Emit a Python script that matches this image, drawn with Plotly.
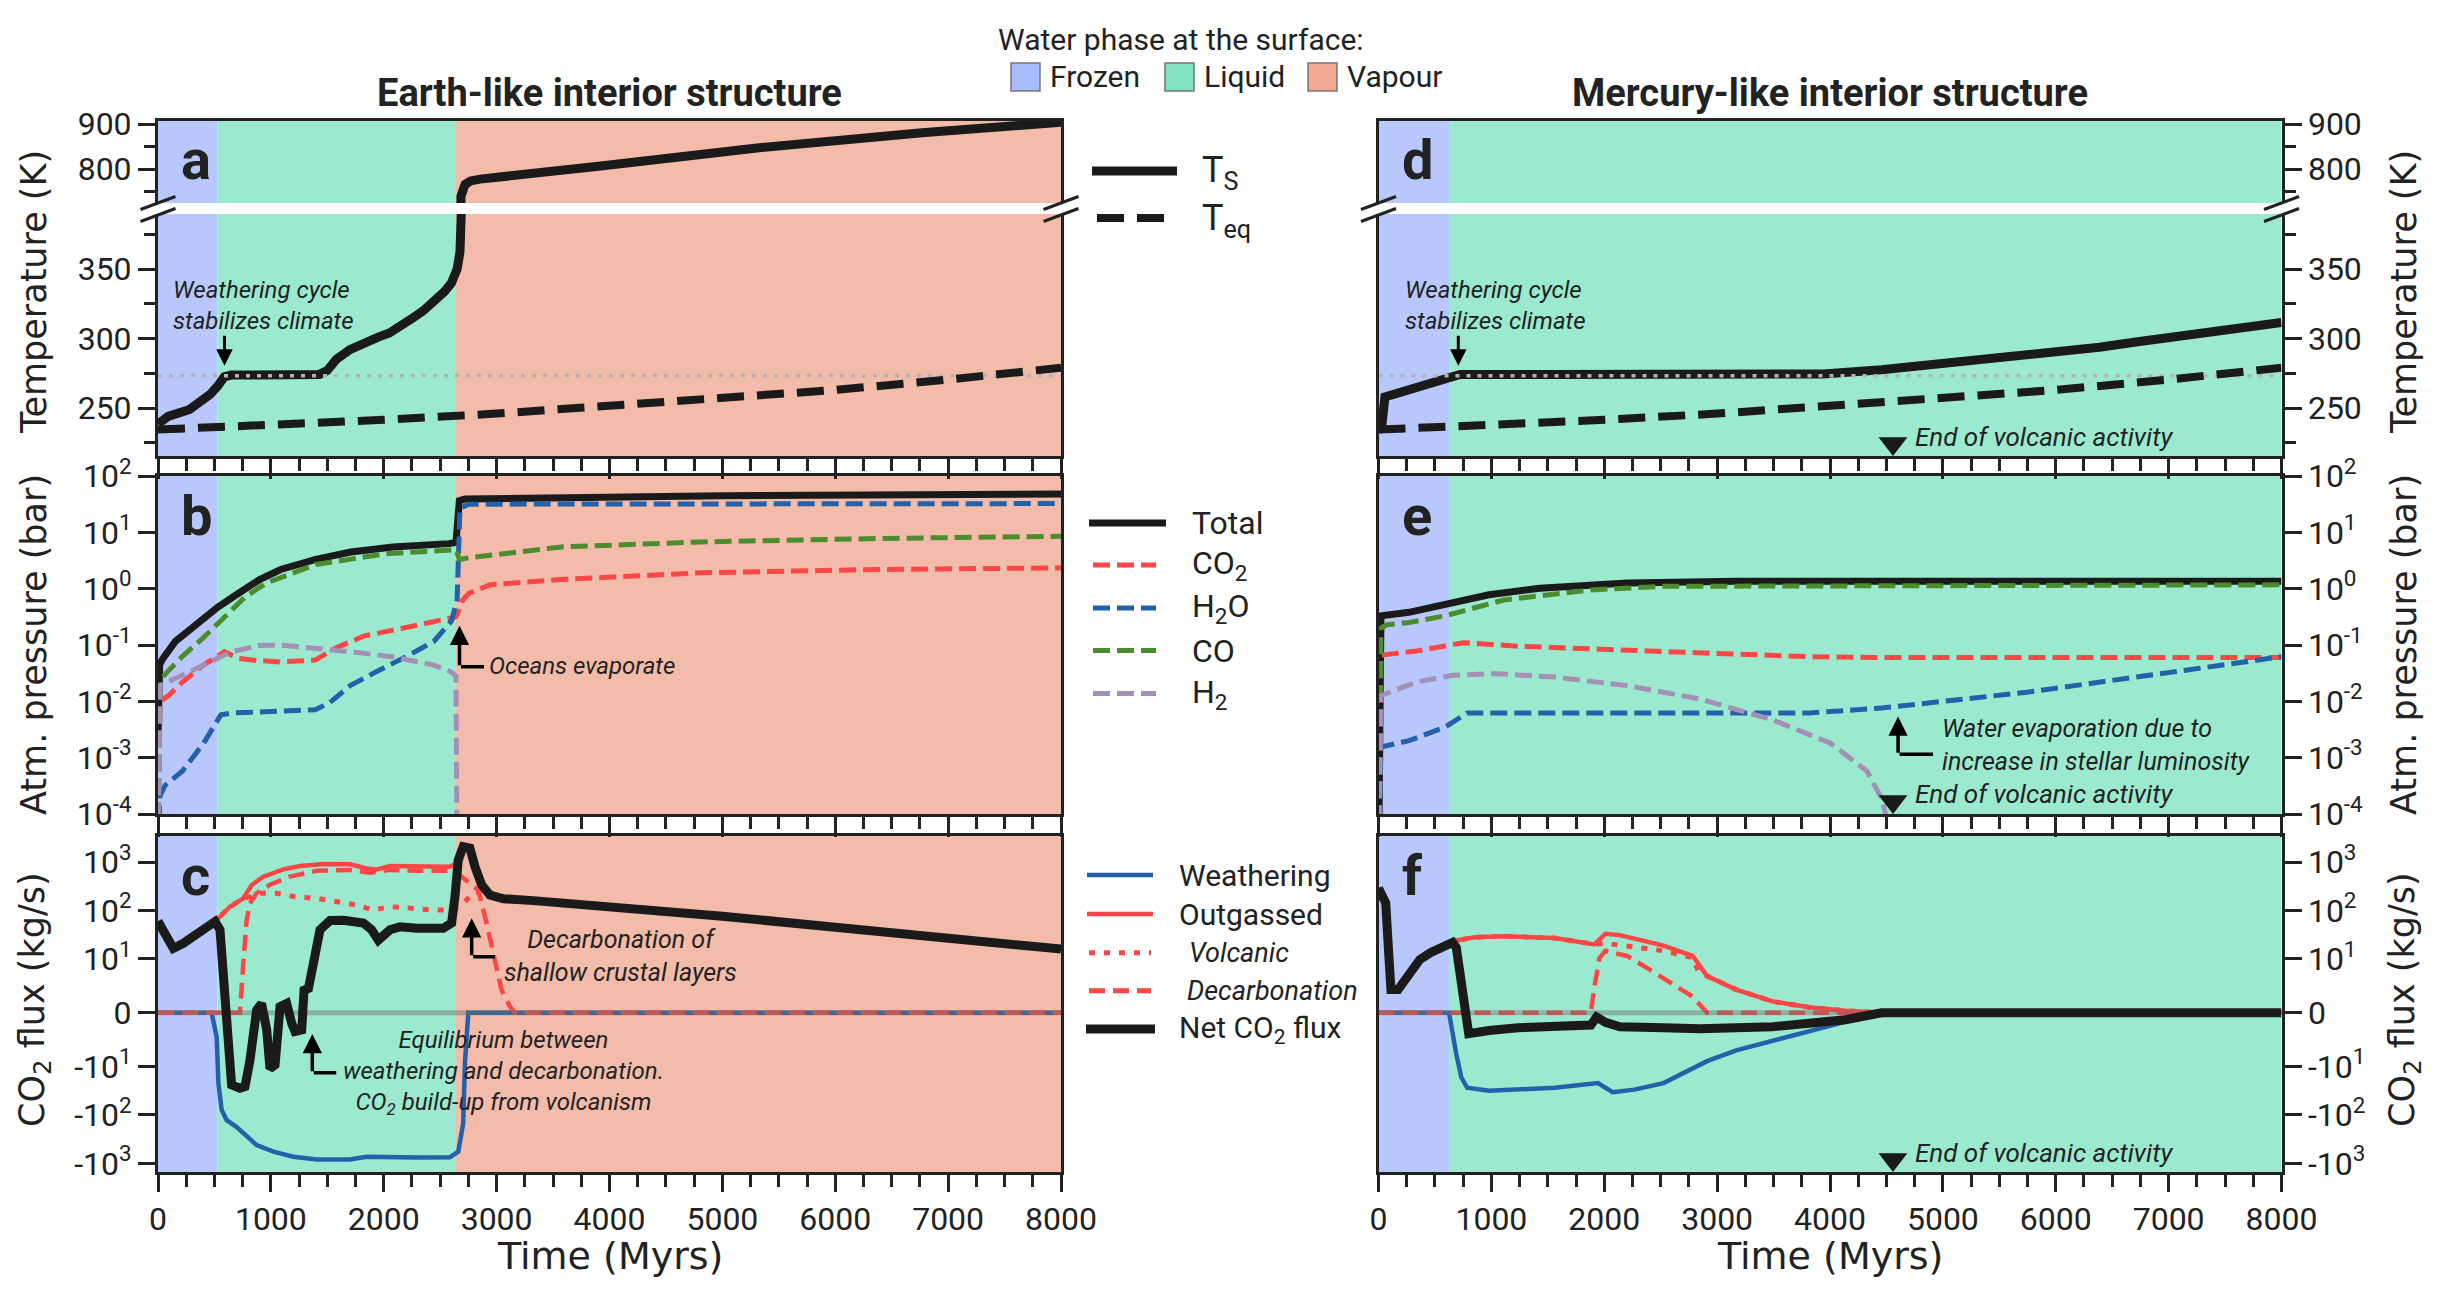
import math
import plotly.graph_objects as go

W, H = 2440, 1293

# ======================= DATA =======================
T_MAX = 8000
T_FREEZE = 273.15          # K, freezing point line
T_END_VOLC = 4558          # Myr, end of volcanic activity (Mercury-like)

earth_phase_names = ["Frozen", "Liquid", "Vapour"]
earth_phase_edges = [0, 528, 2640, 8000]
merc_phase_names = ["Frozen", "Liquid"]
merc_phase_edges = [0, 625, 8000]

# ---- panel a / d : temperatures (K)
ts_earth_t = [0, 90, 280, 400, 464, 530, 588, 650, 800, 960, 1100, 1300, 1430, 1500, 1580, 1700,
              1830, 1950, 2050, 2160, 2260, 2350, 2450, 2540, 2600, 2650, 2675, 2680, 2684, 2695,
              2720, 2770, 2853, 3922, 5345, 6769, 8000]
ts_earth = [238.5, 244, 249, 255, 260, 266, 272.5, 273.7, 273.7, 272.6, 273.3, 273.7, 274.2, 277,
            285, 292, 297.5, 301, 304, 309, 315, 320, 327, 334, 340, 350, 362, 390, 740, 757,
            766, 774, 778, 807, 848, 881, 904]

ts_merc_t = [0, 28, 57, 220, 456, 634, 722, 1500, 3000, 3940, 4456, 4778, 5422, 5743, 6387, 6710,
             7354, 8000]
ts_merc = [234, 236, 258, 261.7, 267.7, 272.5, 274.2, 274.2, 274.3, 274.5, 277.5, 280, 285, 287.5,
           293.8, 297.5, 303.8, 311.5]

teq_t = [0, 1000, 2000, 3000, 4000, 5000, 6000, 7000, 8000]
teq = [234.5, 237.5, 241.5, 246, 251.5, 256.5, 263, 270.5, 279]

# ---- panel b : Earth-like atmospheric partial pressures (bar)
p_tot_e_t = [0, 8, 15, 40, 155, 342, 528, 714, 900, 1087, 1398, 1708, 2081, 2578, 2640, 2655, 2670,
             2720, 3500, 5000, 8000]
p_tot_e = [0.0025, 0.0126, 0.045, 0.056, 0.117, 0.234, 0.468, 0.83, 1.45, 2.19, 3.31, 4.47, 5.5,
           6.3, 6.6, 15.8, 36.3, 38.9, 41.7, 44.7, 47.9]

p_co2_e_t = [0, 10, 19, 93, 217, 402, 588, 712, 836, 1084, 1393, 1579, 1827, 2198, 2570, 2640, 2663,
             2700, 2756, 2942, 3561, 4800, 6350, 8000]
p_co2_e = [3e-5, 0.005, 0.01, 0.0126, 0.022, 0.044, 0.076, 0.058, 0.054, 0.050, 0.054, 0.089, 0.145,
           0.204, 0.288, 0.316, 0.407, 0.63, 0.83, 1.17, 1.45, 1.91, 2.19, 2.34]

p_h2o_e_t = [0, 15, 62, 217, 402, 557, 650, 1393, 1517, 1703, 1951, 2198, 2446, 2601, 2650, 2663,
             2675, 2756, 8000]
p_h2o_e = [1e-5, 2e-4, 3.2e-4, 5.8e-4, 0.00178, 0.00575, 0.0062, 0.0071, 0.0093, 0.019, 0.035, 0.062,
           0.117, 0.27, 0.63, 10.0, 26.9, 31.6, 32.4]

p_co_e_t = [0, 8, 19, 93, 217, 402, 588, 774, 960, 1398, 2019, 2609, 2640, 2670, 2760, 3571, 4814,
            6362, 8000]
p_co_e = [3e-5, 0.01, 0.024, 0.035, 0.063, 0.135, 0.31, 0.72, 1.26, 2.69, 4.17, 5.01, 4.9, 3.31, 3.55,
          5.5, 6.76, 7.76, 8.51]

p_h2_e_t = [0, 10, 19, 62, 217, 464, 650, 898, 1084, 1393, 1703, 2074, 2446, 2601, 2640, 2650]
p_h2_e = [3e-5, 0.0126, 0.019, 0.021, 0.029, 0.050, 0.076, 0.098, 0.100, 0.089, 0.076, 0.062, 0.044,
          0.033, 0.028, 1e-5]

# ---- panel e : Mercury-like atmospheric partial pressures (bar)
p_tot_m_t = [0, 22, 270, 592, 979, 1430, 2202, 3168, 8000]
p_tot_m = [1e-5, 0.33, 0.38, 0.54, 0.78, 1.02, 1.26, 1.35, 1.35]

p_co2_m_t = [0, 22, 335, 753, 1237, 2524, 3812, 4456, 8000]
p_co2_m = [1e-5, 0.066, 0.078, 0.11, 0.095, 0.078, 0.062, 0.060, 0.060]

p_h2o_m_t = [0, 22, 270, 592, 785, 3812, 4456, 5743, 7031, 8000]
p_h2o_m = [1e-5, 0.00155, 0.0020, 0.0035, 0.0062, 0.0062, 0.0076, 0.0145, 0.033, 0.062]

p_co_m_t = [0, 22, 77, 270, 592, 1108, 1881, 2524, 8000]
p_co_m = [1e-5, 0.2, 0.23, 0.25, 0.33, 0.63, 0.95, 1.10, 1.17]

p_h2_m_t = [0, 22, 335, 657, 1043, 1558, 2202, 2846, 3490, 4005, 4327, 4456, 4489, 4530]
p_h2_m = [1e-5, 0.0126, 0.022, 0.029, 0.031, 0.027, 0.019, 0.011, 0.0047, 0.0018, 0.00058, 0.00019,
          0.000107, 0.00002]

# ---- panel c : Earth-like CO2 fluxes (kg/s)
f_weath_e_t = [0, 475, 520, 535, 564, 608, 697, 785, 874, 1022, 1199, 1406, 1701, 1849, 1996, 2291,
               2586, 2660, 2704, 2719, 2749, 8000]
f_weath_e = [0, 0, -4.5, -22, -79, -128, -178, -282, -420, -575, -730, -830, -830, -730, -750, -760,
             -750, -575, -150, -9.4, 0, 0]

f_outg_e_t = [0, 62, 136, 224, 372, 505, 638, 756, 830, 933, 1110, 1258, 1465, 1701, 1849, 1937, 2055,
              2291, 2586, 2631, 2660, 2704, 2763, 2808, 2867, 2941, 3060, 3326, 3650, 4000, 5000,
              6000, 7000, 8000]
f_outg_e = [60, 34, 16.5, 21, 36, 59, 120, 178, 337, 500, 706, 830, 910, 900, 740, 706, 830, 800, 800,
            900, 1300, 2080, 1940, 810, 340, 209, 175, 160, 140, 125, 76, 45, 27, 16]

f_volc_e_t = [0, 62, 136, 224, 372, 505, 638, 756, 830, 904, 1051, 1199, 1406, 1583, 1760, 1908, 2055,
              2232, 2439, 2586, 2675, 2763, 2808, 2867, 2941, 3060, 3326, 3650, 4000, 5000, 6000,
              7000, 8000]
f_volc_e = [60, 34, 16.5, 21, 36, 59, 120, 178, 194, 228, 228, 194, 178, 152, 130, 102, 120, 112, 102,
            102, 120, 194, 245, 240, 195, 170, 160, 140, 125, 76, 45, 27, 16]

f_decarb_e_t = [0, 726, 756, 785, 815, 874, 992, 1170, 1406, 1701, 1878, 2055, 2291, 2586, 2690, 2837,
                2911, 2985, 3044, 3119, 3163, 8000]
f_decarb_e = [0, 0, 9.2, 63, 141, 228, 340, 500, 660, 690, 600, 690, 660, 660, 500, 265, 55, 9.2, 4.2,
              1.1, 0, 0]

f_net_e_t = [0, 62, 136, 224, 372, 505, 549, 579, 623, 652, 726, 771, 815, 874, 918, 963, 992, 1037,
             1081, 1140, 1185, 1214, 1273, 1294, 1333, 1362, 1391, 1435, 1524, 1642, 1819, 1893, 1952,
             1996, 2055, 2144, 2291, 2527, 2601, 2631, 2660, 2704, 2763, 2808, 2867, 2941, 3060,
             3326, 3650, 4000, 5000, 6000, 7000, 8000]
f_net_e = [60, 34, 16.5, 21, 36, 59, 40, 7.9, -4.5, -24, -28, -26, -8.8, 0.5, 1.7, -3.2, -11, -9.7,
           1.1, 1.7, -2.0, -3.5, -3.2, 4.2, 4.5, 7.3, 13.1, 40, 62, 63, 55, 40, 24.5, 31, 40, 46, 43,
           43, 55, 194, 1100, 2080, 1940, 810, 340, 209, 175, 160, 140, 125, 76, 45, 27, 16]

# ---- panel f : Mercury-like CO2 fluxes (kg/s)
f_weath_m_t = [0, 625, 689, 734, 786, 979, 1559, 1881, 1945, 2074, 2267, 2525, 2911, 3169, 3491, 3813,
               4135, 4393, 4457, 8000]
f_weath_m = [0, 0, -7.7, -16.9, -27.5, -31.7, -27.5, -23.5, -22, -34, -30, -22, -9, -7.0, -5.2, -3.3,
             -1.7, -0.4, 0, 0]

f_outg_m_t = [0, 64, 90, 110, 174, 270, 367, 464, 657, 689, 850, 1108, 1559, 1881, 1913, 2010, 2138,
              2525, 2783, 2911, 3169, 3491, 3813, 4135, 4457, 8000]
f_outg_m = [290, 143, 13.5, 4.3, 4.3, 6.8, 9.9, 13.6, 22, 24, 28, 29.5, 27, 21, 20, 33, 31, 18.8, 11.6,
            6.8, 4.3, 2.1, 1.0, 0.38, 0, 0]

f_volc_m_t = [0, 64, 90, 110, 174, 270, 367, 464, 657, 689, 850, 1108, 1559, 1881, 1913, 2010, 2267,
              2525, 2783, 2834, 2911, 3169, 3491, 3813, 4135, 4457, 8000]
f_volc_m = [290, 143, 13.5, 4.3, 4.3, 6.8, 9.9, 13.6, 22, 24, 28, 29.5, 27, 21, 20, 21, 17.3, 14.7,
            10.6, 7.7, 6.8, 4.3, 2.1, 1.0, 0.38, 0, 0]

f_decarb_m_t = [0, 1881, 1913, 1958, 2010, 2203, 2396, 2589, 2783, 2911, 8000]
f_decarb_m = [0, 0, 4.9, 10.5, 14.7, 11.5, 8.1, 5.5, 3.0, 0, 0]

f_net_m_t = [0, 64, 90, 110, 174, 270, 367, 464, 657, 689, 754, 799, 979, 1237, 1881, 1932, 2010, 2138,
             2525, 2847, 3491, 3813, 4135, 4457, 8000]
f_net_m = [290, 143, 13.5, 4.3, 4.3, 6.8, 9.9, 13.6, 22, 17.3, 1.1, -3.9, -3.3, -2.8, -2.3, -0.8, -1.8,
           -2.6, -2.8, -3.0, -2.6, -2.1, -1.3, 0, 0]

# tick values
time_ticks = [0, 1000, 2000, 3000, 4000, 5000, 6000, 7000, 8000]
p_ticks = [1e-4, 1e-3, 1e-2, 1e-1, 1e0, 1e1, 1e2]
p_ticktext = ["10<sup>-4</sup>", "10<sup>-3</sup>", "10<sup>-2</sup>", "10<sup>-1</sup>",
              "10<sup>0</sup>", "10<sup>1</sup>", "10<sup>2</sup>"]
flux_ticks = [-1000, -100, -10, 0, 10, 100, 1000]
flux_ticktext = ["-10<sup>3</sup>", "-10<sup>2</sup>", "-10<sup>1</sup>", "0",
                 "10<sup>1</sup>", "10<sup>2</sup>", "10<sup>3</sup>"]

# ======================= STYLE =======================
INK = "#222222"
BLACK = "#1a1a1a"
RED = "#fd4646"
BLUE = "#2361aa"
GREEN = "#4b8c2e"
PURPLE = "#a590b5"
FONT = "Roboto"
AXFONT = "DejaVu Sans"
PHASE_BG = {"Frozen": "#b9c8fc", "Liquid": "#9beacf", "Vapour": "#f3bba9"}
PHASE_PATCH = {"Frozen": "#a9bcfb", "Liquid": "#80e2bf", "Vapour": "#f0a890"}
TICKFONT = dict(family=FONT, size=32, color=INK)

LINTHRESH = 10.0
LINSCALE_ADJ = 1.0 / (1.0 - 1.0 / 10.0)


def symlog(v):
    a = abs(v)
    if a <= LINTHRESH:
        return v * LINSCALE_ADJ / LINTHRESH
    return math.copysign(LINSCALE_ADJ + math.log10(a / LINTHRESH), v)


def PX(px):
    return px / W


def PY(py):
    return 1 - py / H


XL = [PX(158), PX(1061)]
XR = [PX(1378.5), PX(2281.5)]


def ydom(top, bot):
    return [PY(bot), PY(top)]


A_UP, A_LO, B_DOM, C_DOM = ydom(121, 203), ydom(214, 456), ydom(476, 814), ydom(836, 1172)

layout = dict(width=W, height=H, autosize=False, margin=dict(l=0, r=0, t=0, b=0, pad=0),
              paper_bgcolor="white", plot_bgcolor="white", showlegend=False,
              font=dict(family=FONT, color=INK))


def ax_name(i, k):
    return k if i == 1 else f"{k}{i}"


def lay_name(i, k):
    return f"{k}axis" if i == 1 else f"{k}axis{i}"


def make_x(i, dom, kind, mirror):
    d = dict(domain=dom, anchor=ax_name(i, "y"), range=[0, T_MAX], showgrid=False, zeroline=False,
             automargin=False, showline=True, linecolor=INK, linewidth=3, tickfont=TICKFONT,
             mirror=mirror)
    if kind == "top":
        d.update(side="top", ticks="", showticklabels=False)
    else:
        d.update(ticks="outside", tickvals=time_ticks, tickcolor=INK, tickwidth=3,
                 ticklen=20 if kind == "strip" else 17,
                 showticklabels=(kind == "labels"),
                 minor=dict(dtick=250, tick0=0, ticks="outside", ticklen=12, tickwidth=2.5,
                            tickcolor=INK))
    layout[lay_name(i, "x")] = d


def make_y(i, dom, side, **kw):
    d = dict(domain=dom, anchor=ax_name(i, "x"), side=side, showgrid=False, zeroline=False,
             automargin=False, showline=True, linecolor=INK, linewidth=3, mirror=True,
             ticks="outside", ticklen=17, tickwidth=3, tickcolor=INK, tickfont=TICKFONT)
    d.update(kw)
    layout[lay_name(i, "y")] = d


minor_up = dict(tickvals=[750, 850], ticks="outside", ticklen=11, tickwidth=2.5, tickcolor=INK)
minor_lo = dict(tickvals=[225, 275, 325, 375], ticks="outside", ticklen=11, tickwidth=2.5,
                tickcolor=INK)
flux_range = [-3.29, 3.65]

for base, xd, side in ((0, XL, "left"), (4, XR, "right")):
    make_x(base + 1, xd, "top", False)
    make_x(base + 2, xd, "strip", False)
    make_x(base + 3, xd, "strip", True)
    make_x(base + 4, xd, "labels", True)
    make_y(base + 1, A_UP, side, range=[725, 907], tickvals=[800, 900], minor=minor_up)
    make_y(base + 2, A_LO, side, range=[215.5, 389.6], tickvals=[250, 300, 350], minor=minor_lo)
    make_y(base + 3, B_DOM, side, type="log", range=[-4, 2], tickvals=p_ticks, ticktext=p_ticktext)
    make_y(base + 4, C_DOM, side, range=flux_range, tickvals=[symlog(v) for v in flux_ticks],
           ticktext=flux_ticktext)

fig = go.Figure()


def line(i, x, y, color, width, dash="solid"):
    fig.add_trace(go.Scatter(x=x, y=y, mode="lines", xaxis=ax_name(i, "x"), yaxis=ax_name(i, "y"),
                             line=dict(color=color, width=width, dash=dash), hoverinfo="skip"))


TEQ_DASH = "27px,13px"
GAS_DASH = "17px,7px"
DOT_GRAY = "4px,7px"
VOLC_DOT = "6px,9px"
DEC_DASH = "16px,8px"

# --- temperature panels (a: 1,2 ; d: 5,6)
for i in (1, 2):
    line(i, ts_earth_t, ts_earth, BLACK, 9)
    line(i, [0, T_MAX], [T_FREEZE, T_FREEZE], "#b3b3b3", 3.5, DOT_GRAY)
    line(i, teq_t, teq, BLACK, 8, TEQ_DASH)
for i in (5, 6):
    line(i, ts_merc_t, ts_merc, BLACK, 9)
    line(i, [0, T_MAX], [T_FREEZE, T_FREEZE], "#b3b3b3", 3.5, DOT_GRAY)
    line(i, teq_t, teq, BLACK, 8, TEQ_DASH)

# --- pressure panels (b: 3 ; e: 7)
for i, series in ((3, [(p_tot_e_t, p_tot_e), (p_co2_e_t, p_co2_e), (p_h2o_e_t, p_h2o_e),
                       (p_co_e_t, p_co_e), (p_h2_e_t, p_h2_e)]),
                  (7, [(p_tot_m_t, p_tot_m), (p_co2_m_t, p_co2_m), (p_h2o_m_t, p_h2o_m),
                       (p_co_m_t, p_co_m), (p_h2_m_t, p_h2_m)])):
    line(i, series[0][0], series[0][1], BLACK, 7)
    for (tx, py), col in zip(series[1:], (RED, BLUE, GREEN, PURPLE)):
        line(i, tx, py, col, 5, GAS_DASH)

# --- flux panels (c: 4 ; f: 8)
for i, (wt, wv, ot, ov, vt, vv, dt, dv, nt, nv) in (
        (4, (f_weath_e_t, f_weath_e, f_outg_e_t, f_outg_e, f_volc_e_t, f_volc_e, f_decarb_e_t,
             f_decarb_e, f_net_e_t, f_net_e)),
        (8, (f_weath_m_t, f_weath_m, f_outg_m_t, f_outg_m, f_volc_m_t, f_volc_m, f_decarb_m_t,
             f_decarb_m, f_net_m_t, f_net_m))):
    line(i, wt, [symlog(v) for v in wv], BLUE, 4.5)
    line(i, ot, [symlog(v) for v in ov], RED, 4.5)
    line(i, vt, [symlog(v) for v in vv], RED, 5, VOLC_DOT)
    line(i, dt, [symlog(v) for v in dv], RED, 4.5, DEC_DASH)
    line(i, [0, T_MAX], [symlog(0), symlog(0)], "rgba(110,110,110,0.45)", 5)
    line(i, nt, [symlog(v) for v in nv], BLACK, 9)

# --- end of volcanic activity markers
for i, yv in ((6, 224.5), (7, 10 ** -3.78), (8, -3.03)):
    fig.add_trace(go.Scatter(x=[T_END_VOLC], y=[yv], mode="markers", xaxis=ax_name(i, "x"),
                             yaxis=ax_name(i, "y"), hoverinfo="skip",
                             marker=dict(symbol="triangle-down", size=25, color=BLACK)))

# ======================= SHAPES =======================
shapes = []
for idxs, names, edges in (((1, 2, 3, 4), earth_phase_names, earth_phase_edges),
                           ((5, 6, 7, 8), merc_phase_names, merc_phase_edges)):
    for i in idxs:
        for k, nm in enumerate(names):
            shapes.append(dict(type="rect", xref=ax_name(i, "x"), yref=ax_name(i, "y") + " domain",
                               x0=edges[k], x1=edges[k + 1], y0=0, y1=1, fillcolor=PHASE_BG[nm],
                               line=dict(width=0), layer="below"))


def pseg(x0, y0, x1, y1, color, width, dash="solid"):
    shapes.append(dict(type="line", xref="paper", yref="paper", x0=PX(x0), y0=PY(y0), x1=PX(x1),
                       y1=PY(y1), line=dict(color=color, width=width, dash=dash)))


# axis break marks
for xa in (158, 1061, 1378.5, 2281.5):
    for yc in (203, 215):
        pseg(xa - 17.5, yc + 6.5, xa + 17.5, yc - 6.5, INK, 3)

# ======================= ANNOTATIONS =======================
ann = []


def text(x, y, s, size=24, xanchor="left", yanchor="middle", xref="paper", yref="paper",
         italic=False, family=FONT, angle=0):
    ann.append(dict(x=x, y=y, xref=xref, yref=yref, text=s, showarrow=False, xanchor=xanchor,
                    yanchor=yanchor, textangle=angle, align=xanchor,
                    font=dict(family=family, size=size, color=INK,
                              style="italic" if italic else "normal")))


def arrow(i, x, y, ax, ay, head=2, width=3):
    ann.append(dict(x=x, y=y, ax=ax, ay=ay, xref=ax_name(i, "x"), yref=ax_name(i, "y"),
                    axref=ax_name(i, "x"), ayref=ax_name(i, "y"), text="", showarrow=True,
                    arrowhead=head, arrowsize=1.1, arrowwidth=width, arrowcolor="black",
                    standoff=0, startstandoff=0))


# titles and top legend
text(PX(609.5), PY(93), "<b>Earth-like interior structure</b>", size=38, xanchor="center")
text(PX(1830), PY(93), "<b>Mercury-like interior structure</b>", size=38, xanchor="center")
text(PX(1181), PY(39), "Water phase at the surface:", size=30, xanchor="center")
for nm, bx in (("Frozen", 1011), ("Liquid", 1165), ("Vapour", 1308)):
    shapes.append(dict(type="rect", xref="paper", yref="paper", x0=PX(bx), x1=PX(bx + 29),
                       y0=PY(91), y1=PY(63), fillcolor=PHASE_PATCH[nm],
                       line=dict(color="#777777", width=1.5)))
    text(PX(bx + 37), PY(77), nm, size=30)

# panel letters
for s, x, y in (("a", 179, 160), ("b", 179, 516), ("c", 179, 876), ("d", 1399.5, 160),
                ("e", 1399.5, 516), ("f", 1399.5, 876)):
    text(PX(x), PY(y), f"<b>{s}</b>", size=56)

# axis titles
for xpos in (34, 2404):
    text(PX(xpos), PY(292), "Temperature (K)", size=35, xanchor="center", family=AXFONT, angle=-90)
    text(PX(xpos), PY(645), "Atm. pressure (bar)", size=35, xanchor="center", family=AXFONT,
         angle=-90)
    text(PX(xpos), PY(1000), "CO<sub>2</sub> flux (kg/s)", size=35, xanchor="center",
         family=AXFONT, angle=-90)
for xc in (609.5, 1830):
    text(PX(xc), PY(1256), "Time (Myrs)", size=38, xanchor="center", family=AXFONT)

# middle legends
pseg(1092, 171, 1177, 171, BLACK, 9)
pseg(1097, 218, 1165, 218, BLACK, 8, TEQ_DASH)
text(PX(1200), PY(173), "T<sub>S</sub>", size=36)
text(PX(1200), PY(220), "T<sub>eq</sub>", size=36)

pseg(1089, 523, 1166, 523, BLACK, 7)
for (lab, col), yy in zip((("CO<sub>2</sub>", RED), ("H<sub>2</sub>O", BLUE), ("CO", GREEN),
                           ("H<sub>2</sub>", PURPLE)), (565, 608, 650.5, 693.6)):
    pseg(1093, yy, 1156, yy, col, 5, GAS_DASH)
    text(PX(1190), PY(yy), lab, size=32)
text(PX(1190), PY(523), "Total", size=32)

pseg(1087, 875, 1153, 875, BLUE, 4.5)
pseg(1087, 914, 1153, 914, RED, 4.5)
pseg(1089, 952.7, 1151, 952.7, RED, 5, VOLC_DOT)
pseg(1089, 990.7, 1151, 990.7, RED, 5, DEC_DASH)
pseg(1086, 1029, 1155, 1029, BLACK, 9)
text(PX(1177), PY(875), "Weathering", size=30)
text(PX(1177), PY(914), "Outgassed", size=30)
text(PX(1187), PY(952.7), "Volcanic", size=27, italic=True)
text(PX(1185), PY(990.7), "Decarbonation", size=27, italic=True)
text(PX(1177), PY(1029), "Net CO<sub>2</sub> flux", size=30)

# panel a / d annotations
for i, xt, xa in ((2, 115, 589), (6, 217, 707)):
    text(xt, 323.7, "Weathering cycle<br>stabilizes climate", size=24, xref=ax_name(i, "x"),
         yref=ax_name(i, "y"), italic=True)
    arrow(i, xa, 280.5, xa, 303)

# end of volcanic activity labels
text(4738, 229.4, "End of volcanic activity", size=26, xref="x6", yref="y6", italic=True)
text(4738, -3.645, "End of volcanic activity", size=26, xref="x7", yref="y7", italic=True)
text(4738, -2.90, "End of volcanic activity", size=26, xref="x8", yref="y8", italic=True)

# panel b: oceans evaporate
arrow(3, 2671, -0.66, 2671, -1.385, width=3.5)
arrow(3, 2888, -1.385, 2671, -1.385, head=0, width=3.5)
text(2915, -1.37, "Oceans evaporate", size=24, xref="x3", yref="y3", italic=True)

# panel e: water evaporation
arrow(7, 4603, -2.27, 4603, -2.94, width=3.5)
arrow(7, 4913, -2.94, 4603, -2.94, head=0, width=3.5)
text(4977, -2.77, "Water evaporation due to<br>increase in stellar luminosity", size=25,
     xref="x7", yref="y7", italic=True)

# panel c: decarbonation of shallow crust
arrow(4, 2779, 1.95, 2779, 1.157, width=3.5)
arrow(4, 2985, 1.157, 2779, 1.157, head=0, width=3.5)
text(4101, 1.17, "Decarbonation of<br>shallow crustal layers", size=25, xref="x4", yref="y4",
     italic=True, xanchor="center")

# panel c: equilibrium
arrow(4, 1367, -0.44, 1367, -1.24, width=3.5)
arrow(4, 1579, -1.24, 1367, -1.24, head=0, width=3.5)
text(3063, -1.23, "Equilibrium between<br>weathering and decarbonation.<br>"
     "CO<sub>2</sub> build-up from volcanism", size=24, xref="x4", yref="y4", italic=True,
     xanchor="center")

layout["shapes"] = shapes
layout["annotations"] = ann
fig.update_layout(**layout)

fig.write_html("out.html", config={"displayModeBar": False},
               post_script="document.documentElement.style.margin='0';"
                           "document.body.style.margin='0';"
                           "document.body.style.overflow='hidden';")
